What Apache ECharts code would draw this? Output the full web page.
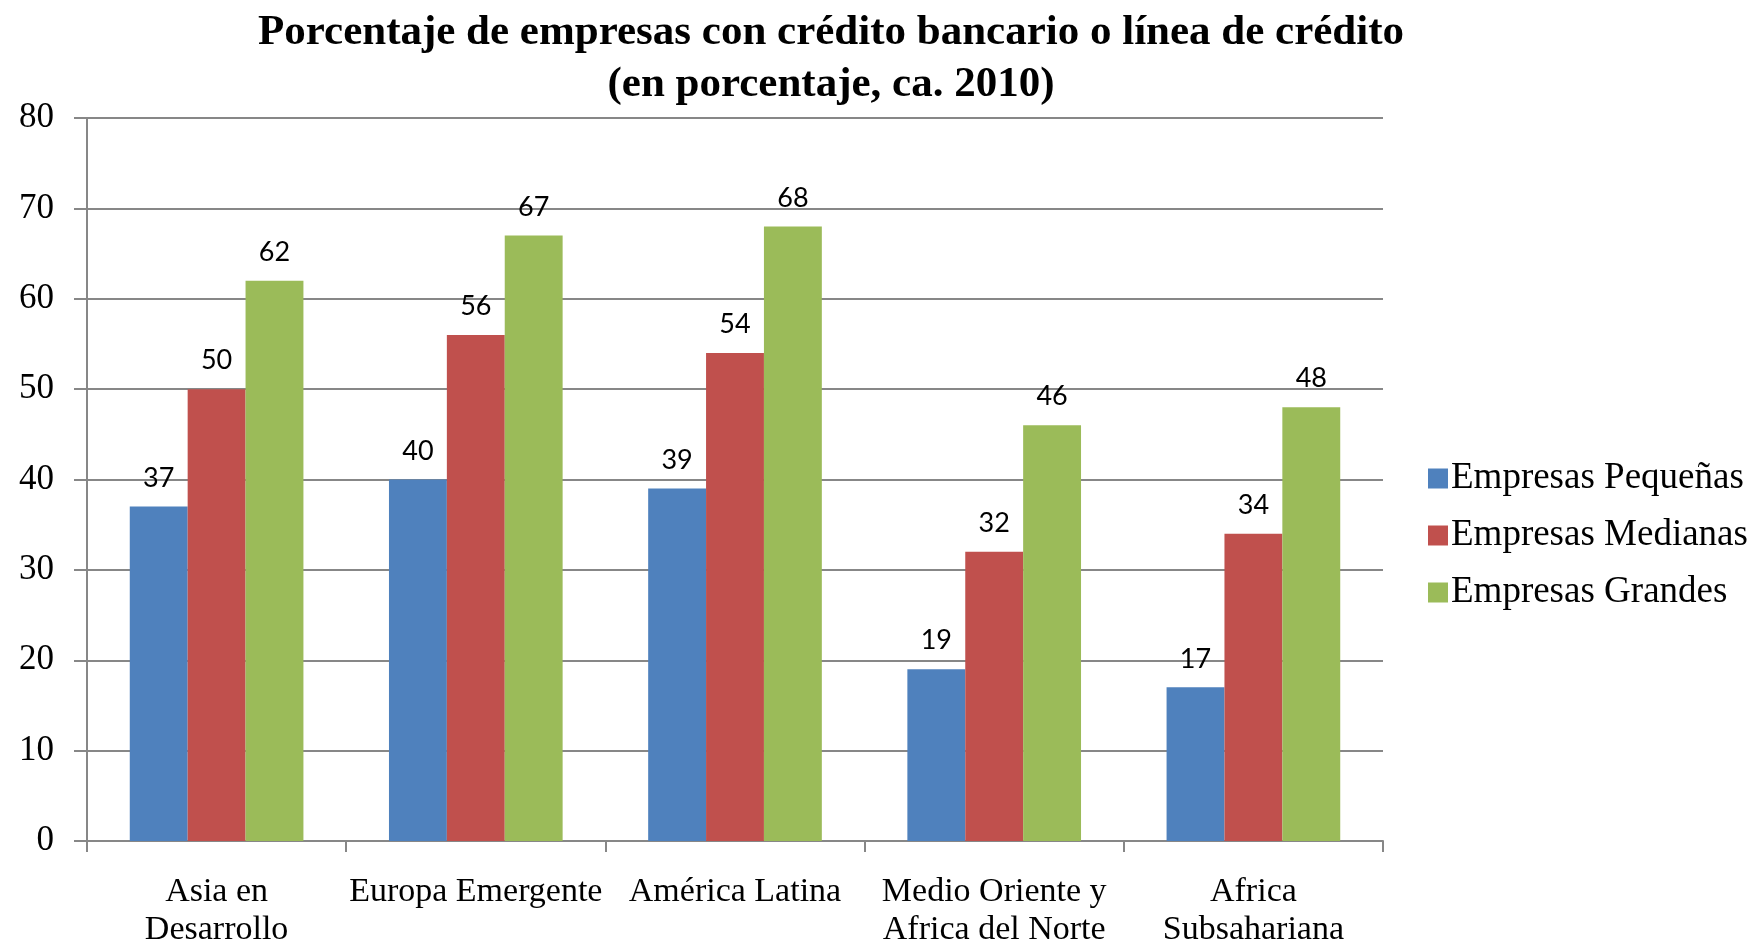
<!DOCTYPE html>
<html>
<head>
<meta charset="utf-8">
<script src="https://cdn.jsdelivr.net/npm/echarts@6/dist/echarts.min.js"></script>
<style>html,body{margin:0;padding:0;background:#fff}#c{width:1755px;height:945px}</style>
</head>
<body>
<div id="c"></div>
<script>
const titleText = 'Porcentaje de empresas con crédito bancario o línea de crédito\n(en porcentaje, ca. 2010)';
const categories = ['Asia en\nDesarrollo', 'Europa Emergente', 'América Latina', 'Medio Oriente y\nAfrica del Norte', 'Africa\nSubsahariana'];
const seriesNames = ['Empresas Pequeñas', 'Empresas Medianas', 'Empresas Grandes'];
const pequenas = [37, 40, 39, 19, 17];
const medianas = [50, 56, 54, 32, 34];
const grandes = [62, 67, 68, 46, 48];
const colors = ['#4F81BD', '#C0504D', '#9BBB59'];
const yMin = 0, yMax = 80, yInterval = 10;

const serif = '"Liberation Serif", "Times New Roman", serif';
const gridGray = '#878787';

const chart = echarts.init(document.getElementById('c'));
const data = [pequenas, medianas, grandes];
chart.setOption({
  animation: false,
  backgroundColor: '#fff',
  title: {
    text: titleText,
    left: 826,
    textAlign: 'center',
    top: 2,
    textStyle: { fontFamily: serif, fontWeight: 'bold', fontSize: 43, lineHeight: 52, color: '#000' }
  },
  legend: {
    orient: 'vertical',
    left: 1423,
    top: 455,
    itemWidth: 20,
    itemHeight: 20,
    itemGap: 20,
    icon: 'rect',
    textStyle: { fontFamily: serif, fontSize: 37, lineHeight: 36, color: '#000', padding: [0, 0, 0, -2] },
    data: seriesNames
  },
  grid: { left: 87, right: 372, top: 118, bottom: 104, containLabel: false, outerBoundsMode: 'none' },
  xAxis: {
    type: 'category',
    data: categories,
    axisLine: { lineStyle: { color: gridGray, width: 2 } },
    axisTick: { show: true, length: 11, lineStyle: { color: gridGray, width: 2 } },
    axisLabel: { interval: 0, fontFamily: serif, fontSize: 34, lineHeight: 38, color: '#000', margin: 32 }
  },
  yAxis: {
    type: 'value',
    min: yMin, max: yMax, interval: yInterval,
    axisLine: { show: true, lineStyle: { color: gridGray, width: 2 } },
    axisTick: { show: true, length: 13, lineStyle: { color: gridGray, width: 2 } },
    splitLine: { show: true, lineStyle: { color: gridGray, width: 2 } },
    axisLabel: { fontFamily: serif, fontSize: 35, color: '#000', margin: 33 }
  },
  series: seriesNames.map((n, i) => ({
    name: n,
    type: 'bar',
    data: data[i],
    barGap: '0%',
    barCategoryGap: '33%',
    itemStyle: { color: colors[i] },
    label: { show: true, position: 'top', distance: 15, fontFamily: 'Lato, "Open Sans", sans-serif', fontSize: 27, color: '#000' }
  }))
});
</script>
</body>
</html>
